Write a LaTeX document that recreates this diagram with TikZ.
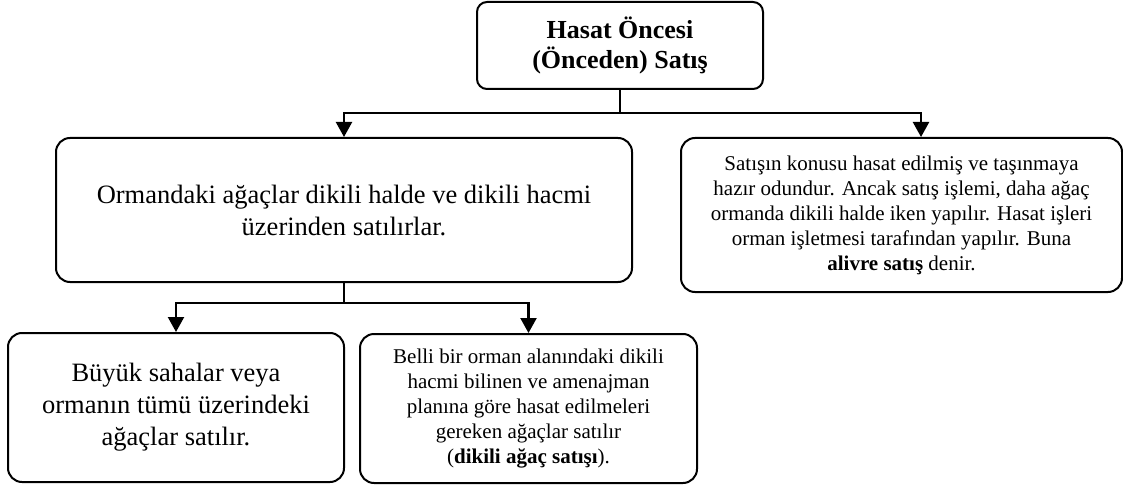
\documentclass[tikz,border=0pt]{standalone}
\usepackage{fontspec}
\setmainfont{Liberation Serif}
\usetikzlibrary{arrows.meta,calc}
\begin{document}
\begin{tikzpicture}[x=1pt,y=-1pt,
  box/.style={draw, line width=2pt, rounded corners=14pt, align=center, inner sep=0pt},
  bigtext/.style={font={\fontsize{26.5}{32}\selectfont}},
  smalltext/.style={font={\fontsize{21}{25}\selectfont}},
  link/.style={line width=2.2pt},
  arrowlink/.style={link, -{Triangle[width=16pt,length=15pt]}},
]
\useasboundingbox (0,0) rectangle (1123,489);

% boxes
\node[box, rounded corners=10pt, minimum width=286pt, minimum height=87pt,
      font={\bfseries\fontsize{26}{30}\selectfont}] (top) at (620,45.5)
  {Hasat Öncesi\\(Önceden) Satış};

\node[box, bigtext, minimum width=576pt, minimum height=144pt] (ml) at (344,210)
  {Ormandaki ağaçlar dikili halde ve dikili hacmi\\üzerinden satılırlar.};

\node[box, smalltext, minimum width=441pt, minimum height=154pt] (r) at (901.5,215)
  {Satışın konusu hasat edilmiş ve taşınmaya\\
   hazır odundur. Ancak satış işlemi, daha ağaç\\
   ormanda dikili halde iken yapılır. Hasat işleri\\
   orman işletmesi tarafından yapılır. Buna\\
   \textbf{alivre satış} denir.};

\node[box, bigtext, minimum width=336pt, minimum height=149pt] (bl) at (176,407.5)
  {Büyük sahalar veya\\ormanın tümü üzerindeki\\ağaçlar satılır.};

\node[box, smalltext, minimum width=337pt, minimum height=149pt] (br) at (528.5,408.5)
  {Belli bir orman alanındaki dikili\\
   hacmi bilinen ve amenajman\\
   planına göre hasat edilmeleri\\
   gereken ağaçlar satılır\\
   (\textbf{dikili ağaç satışı}).};

% connectors
\coordinate (j1) at (620,113);
\coordinate (j2) at (344,303);
\draw[link] (top.south) -- (j1);
\draw[arrowlink] (j1) -| (ml.north);
\draw[arrowlink] (j1) -| ($(r.north)+(19.5,0)$);
\draw[link] (ml.south) -- (j2);
\draw[arrowlink] (j2) -| (bl.north);
\draw[arrowlink] (j2) -| (br.north);
\end{tikzpicture}
\end{document}
